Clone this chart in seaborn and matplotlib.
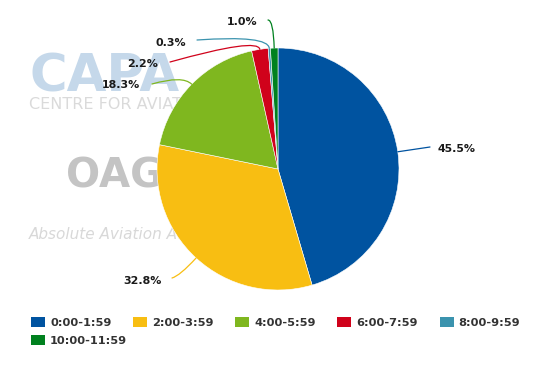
import matplotlib
matplotlib.use("Agg")
import numpy as np
import matplotlib.pyplot as plt
import seaborn as sns
from matplotlib.patches import Patch

# ---- data ----
categories = ["0:00-1:59", "2:00-3:59", "4:00-5:59", "6:00-7:59", "8:00-9:59", "10:00-11:59"]
shares = [45.5, 32.8, 18.3, 2.2, 0.3, 1.0]
value_labels = [f"{v:.1f}%" for v in shares]
colors = ["#0053A0", "#F8BE12", "#7FB71F", "#D0021B", "#3B93AE", "#00811F"]

# ---- layout (pixel positions, y measured from top) ----
W, H = 556, 373
label_pos = [(438, 149, "left"), (162, 281, "right"), (140, 85, "right"),
             (158, 64, "right"), (186, 43, "right"), (257, 22, "right")]
line_end = [(430, 147), (172, 278), (152, 84), (170, 62), (197, 40), (268, 20)]
line_angle = [None, 15, 16, 15.6, 4, 0]

sns.set_theme(style="white")
plt.rcParams["font.family"] = ["DejaVu Sans"]
palette = sns.color_palette(colors)

fig = plt.figure(figsize=(W / 100, H / 100), dpi=100)
fig.patch.set_facecolor("white")
ax = fig.add_axes([0, 0, 1, 1])

# watermark (background logos as text)
ax.text(29, H - 92, "CAPA", fontsize=37, fontweight="bold", color="#C5D8EA",
        ha="left", va="baseline", zorder=0)
ax.text(29, H - 109, "CENTRE FOR AVIATION", fontsize=11.5, color="#DADADA",
        ha="left", va="baseline", zorder=0)
ax.text(66, H - 188, "OAG", fontsize=29, fontweight="bold", color="#C4C4C4",
        ha="left", va="baseline", zorder=0)
ax.text(29, H - 239, "Absolute Aviation Advantage", fontsize=11, style="italic",
        color="#D8D8D8", ha="left", va="baseline", zorder=0)

cx, cy, r = 278, H - 169, 121
wedges, _ = ax.pie(shares, colors=palette, startangle=90, counterclock=False,
                   center=(cx, cy), radius=r, normalize=True,
                   wedgeprops=dict(edgecolor="white", linewidth=0.4))

for i, w in enumerate(wedges):
    theta = np.deg2rad((w.theta1 + w.theta2) / 2)
    edge = (cx + r * np.cos(theta), cy + r * np.sin(theta))
    ex, ey = line_end[i]
    if line_angle[i] is None:
        cs = "arc3,rad=0"
    else:
        cs = f"angle3,angleA={line_angle[i]},angleB={np.rad2deg(theta):.2f}"
    ax.annotate("", xy=edge, xytext=(ex, H - ey),
                arrowprops=dict(arrowstyle="-", color=palette[i], lw=0.9,
                                shrinkA=0, shrinkB=0, connectionstyle=cs))
    lx, ly, ha = label_pos[i]
    ax.text(lx, H - ly, value_labels[i], ha=ha, va="center", fontsize=7.9,
            fontweight="bold", color="#1A1A1A")

ax.set_xlim(0, W)
ax.set_ylim(0, H)
ax.set_aspect("auto")
ax.axis("off")

handles = [Patch(facecolor=c, edgecolor="none", label=l) for c, l in zip(palette, categories)]
common = dict(loc="center left", frameon=False, handlelength=1.23, handleheight=0.95,
              handletextpad=0.44, columnspacing=1.9, borderpad=0, borderaxespad=0,
              prop={"weight": "bold", "size": 8.2}, labelcolor="#333333")
leg1 = ax.legend(handles=handles[:5], ncol=5, bbox_to_anchor=(31 / W, 1 - 322.5 / H), **common)
ax.add_artist(leg1)
ax.legend(handles=handles[5:], ncol=1, bbox_to_anchor=(31 / W, 1 - 340.7 / H), **common)

fig.savefig("out.png", dpi=100, facecolor="white")
